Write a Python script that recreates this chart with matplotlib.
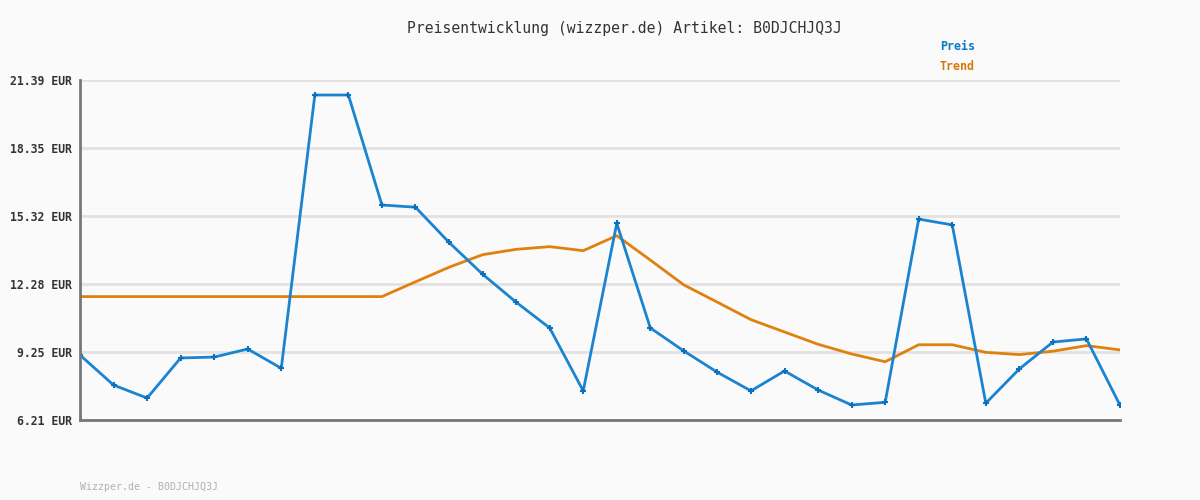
import matplotlib
matplotlib.use("Agg")
import matplotlib.pyplot as plt

title = "Preisentwicklung (wizzper.de) Artikel: B0DJCHJQ3J"
footer = "Wizzper.de - B0DJCHJQ3J"
ytick_values = [6.21, 9.25, 12.28, 15.32, 18.35, 21.39]
ytick_labels = ["6.21 EUR", "9.25 EUR", "12.28 EUR", "15.32 EUR", "18.35 EUR", "21.39 EUR"]

preis = [9.11, 7.77, 7.19, 8.98, 9.02, 9.38, 8.52, 20.72, 20.72, 15.81,
         15.71, 14.14, 12.72, 11.47, 10.32, 7.51, 14.99, 10.32, 9.29, 8.34,
         7.51, 8.40, 7.55, 6.88, 7.00, 15.18, 14.92, 6.96, 8.49, 9.69,
         9.83, 6.87]
trend = [11.72, 11.72, 11.72, 11.72, 11.72, 11.72, 11.72, 11.72, 11.72, 11.72,
         12.38, 13.03, 13.59, 13.83, 13.95, 13.77, 14.44, 13.35, 12.24, 11.47,
         10.69, 10.14, 9.59, 9.16, 8.81, 9.57, 9.57, 9.23, 9.13, 9.28,
         9.53, 9.34]

bg = "#fafafa"
blue = "#1a84d0"
orange = "#e0810f"
mono = "DejaVu Sans Mono"

fig = plt.figure(figsize=(12, 5), dpi=100, facecolor=bg)
ax = fig.add_axes([80/1200, 0.16, 1040/1200, 0.68], facecolor=bg)

x = list(range(len(preis)))
ax.plot(x, trend, color=orange, lw=2, zorder=3, solid_joinstyle="round")
ax.plot(x, preis, color=blue, lw=2, zorder=4, marker="+", ms=5, mew=1.5,
        mec="#0a70c0", solid_joinstyle="round")

ax.set_xlim(0, len(preis) - 1)
ax.set_ylim(ytick_values[0], ytick_values[-1])
ax.set_yticks(ytick_values)
ax.set_yticklabels(ytick_labels, fontfamily=mono, fontweight="bold",
                   fontsize=8.3, color="#333333")
ax.set_xticks([])
ax.tick_params(axis="y", length=0, pad=6)
ax.grid(axis="y", color="#e2e2e2", lw=2, zorder=0)
for s in ["top", "right"]:
    ax.spines[s].set_visible(False)
for s in ["left", "bottom"]:
    ax.spines[s].set_color("#777777")
    ax.spines[s].set_linewidth(2)
    ax.spines[s].set_zorder(5)

fig.text(624/1200, 1 - 28/500, title, ha="center", va="center", fontfamily=mono,
         fontsize=10.6, color="#333333")
fig.text(940/1200, 1 - 47/500, "Preis", ha="left", va="center", fontfamily=mono,
         fontsize=8.4, fontweight="bold", color="#0a78c8")
fig.text(940/1200, 1 - 67/500, "Trend", ha="left", va="center", fontfamily=mono,
         fontsize=8.4, fontweight="bold", color="#d9780a")
fig.text(80/1200, 1 - 487/500, footer, ha="left", va="center", fontfamily=mono,
         fontsize=7.1, color="#b0b0b0")

fig.savefig("out.png", dpi=100, facecolor=bg)
